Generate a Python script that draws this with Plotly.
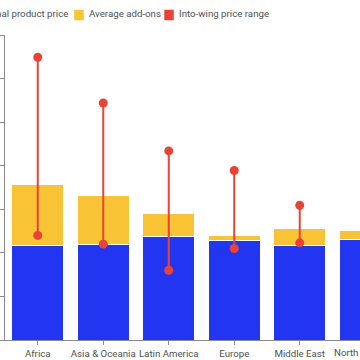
import plotly.graph_objects as go

categories = ["Africa", "Asia & Oceania", "Latin America", "Europe", "Middle East", "North America"]
original_price = [218, 220, 237, 228, 218, 230]
average_addons = [138, 112, 53, 12, 37, 22]
range_low = [240, 220, 160, 210, 223, 225]
range_high = [649, 544, 434, 389, 309, 300]

BLUE = "#2236f2"
YELLOW = "#f8c334"
RED = "#ea4336"
TEXT = "#4f4f4f"
AXIS = "#8a8a8a"
FONT = "Roboto"
FS = 9.7

fig = go.Figure()
fig.add_trace(go.Bar(x=categories, y=original_price, name="Original product price",
                     marker=dict(color=BLUE, line=dict(color="white", width=1)), showlegend=False))
fig.add_trace(go.Bar(x=categories, y=average_addons, name="Average add-ons",
                     marker=dict(color=YELLOW, line=dict(color="white", width=1)), showlegend=False))

xs, ys = [], []
for c, lo, hi in zip(categories, range_low, range_high):
    xs += [c, c, None]
    ys += [lo, hi, None]
fig.add_trace(go.Scatter(x=xs, y=ys, mode="lines+markers", name="Into-wing price range",
                         line=dict(color=RED, width=2), marker=dict(color=RED, size=9),
                         showlegend=False, cliponaxis=False))

# manual legend (pixel -> paper: (px-5)/355, y: (340-py)/305)
def px(v):
    return (v - 5) / 355.0

def py(v):
    return (340 - v) / 305.0

legend_items = [("Original product price", BLUE, 70, None),
                ("Average add-ons", YELLOW, 87, 79),
                ("Into-wing price range", RED, 177, 169)]
for i, (label, col, tx, mx) in enumerate(legend_items):
    fig.add_annotation(x=px(tx), y=py(13), xref="paper", yref="paper", text=label,
                       showarrow=False, xanchor="right" if i == 0 else "left", yanchor="middle",
                       font=dict(size=FS, color=TEXT, family=FONT))
    if mx is not None:
        fig.add_shape(type="rect", xref="paper", yref="paper",
                      x0=px(mx - 4), x1=px(mx + 4), y0=py(19.5), y1=py(10.5),
                      fillcolor=col, line=dict(color=col, width=1.5))

fig.update_layout(
    width=360, height=360,
    margin=dict(l=5, r=0, t=35, b=20, autoexpand=False),
    barmode="stack", bargap=0.21,
    plot_bgcolor="white", paper_bgcolor="white",
    font=dict(family=FONT, size=FS, color=TEXT),
    xaxis=dict(range=[-0.5, 4.92], showline=True, linecolor=AXIS, linewidth=1,
               ticks="outside", ticklen=4, tickcolor=AXIS, showgrid=False, tickangle=0,
               tickfont=dict(size=FS, color=TEXT), automargin=False),
    yaxis=dict(range=[0, 700], dtick=100, showline=True, linecolor=AXIS, linewidth=1,
               ticks="outside", ticklen=5, tickcolor=AXIS, showgrid=False,
               showticklabels=False, zeroline=False, automargin=False),
)
fig.add_annotation(x=px(365), y=py(352), xref="paper", yref="paper", text="North America",
                   showarrow=False, xanchor="center", yanchor="middle",
                   font=dict(size=FS, color=TEXT, family=FONT))

fig.write_html("out.html", config={"displayModeBar": False},
               post_script="document.body.style.margin='0';document.body.style.overflow='hidden';")
